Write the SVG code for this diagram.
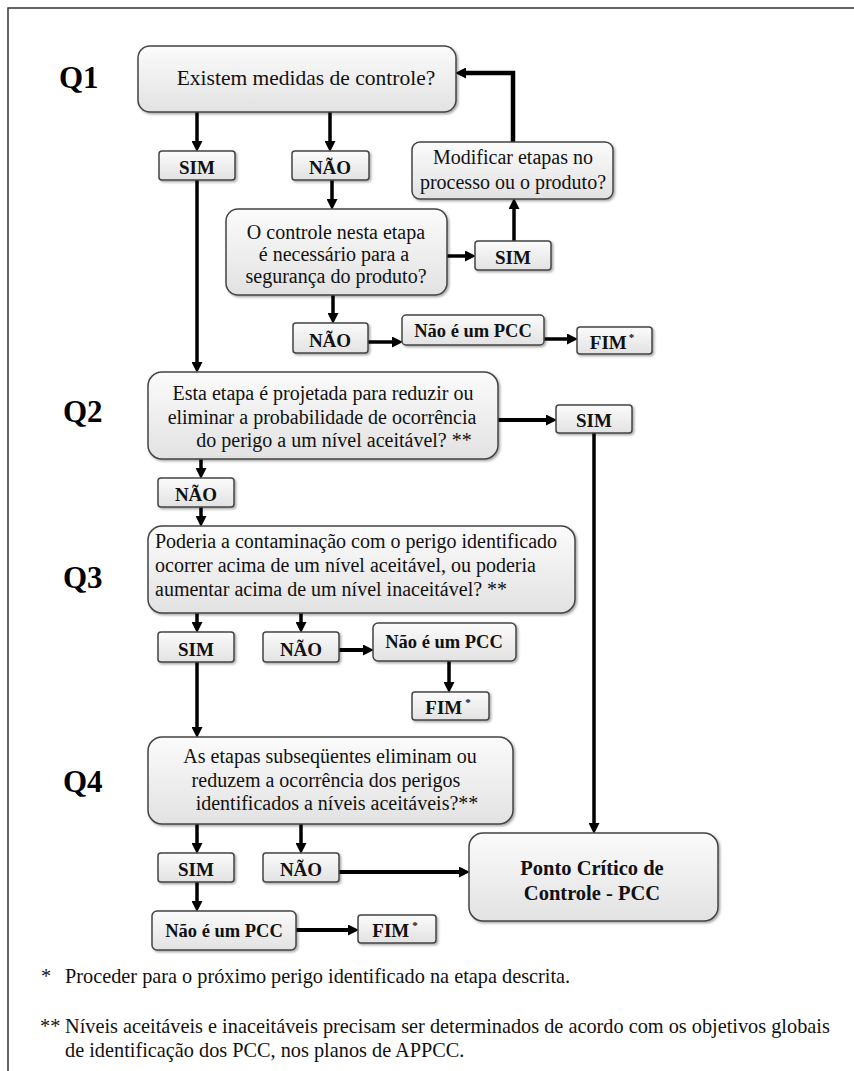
<svg xmlns="http://www.w3.org/2000/svg" width="854" height="1071" viewBox="0 0 854 1071">
<defs>
  <linearGradient id="gfill" x1="0" y1="0" x2="0" y2="1">
    <stop offset="0" stop-color="#fbfbfb"/>
    <stop offset="1" stop-color="#e2e2e2"/>
  </linearGradient>
  <filter id="shadow" x="-10%" y="-10%" width="120%" height="130%">
    <feDropShadow dx="1.5" dy="1.5" stdDeviation="1" flood-color="#000" flood-opacity="0.35"/>
  </filter>
  <marker id="ah" markerUnits="userSpaceOnUse" markerWidth="11" markerHeight="11" refX="2" refY="5.5" orient="auto">
    <path d="M0,0 L11,5.5 L0,11 z" fill="#000"/>
  </marker>
</defs>
<style>
  .box { fill: url(#gfill); stroke: #444; stroke-width: 1.5; filter: url(#shadow); }
  .t { font-family: "Liberation Serif", "Times New Roman", serif; font-size: 20px; fill: #111; }
  .tm { text-anchor: middle; }
  .b { font-family: "Liberation Serif", "Times New Roman", serif; font-size: 19px; font-weight: bold; fill: #111; text-anchor: middle; }
  .q { font-family: "Liberation Serif", "Times New Roman", serif; font-size: 31px; font-weight: bold; fill: #000; }
  .fn { font-family: "Liberation Serif", "Times New Roman", serif; font-size: 20.3px; fill: #111; }
  .c { fill: none; stroke: #000; stroke-width: 3.5; marker-end: url(#ah); }
</style>
<rect width="854" height="1071" fill="#fff"/>
<g id="frame">
  <path d="M8,1071 L8,8 L854,8" fill="none" stroke="#333" stroke-width="1.5"/>
</g>

<g id="labels">
  <text class="q" x="59" y="88">Q1</text>
  <text class="q" x="63" y="422">Q2</text>
  <text class="q" x="63" y="588">Q3</text>
  <text class="q" x="63" y="792">Q4</text>
</g>

<g id="connectors">
  <path class="c" d="M197,112 V143"/>
  <path class="c" d="M330,112 V143"/>
  <path class="c" d="M332,180 V201"/>
  <path class="c" d="M447,256 H467"/>
  <path class="c" d="M514,241 V207"/>
  <path class="c" d="M513,142 V73 H464" style="stroke-width:4.5"/>
  <path class="c" d="M333,295 V315"/>
  <path class="c" d="M368,342 H394"/>
  <path class="c" d="M544,339 H569"/>
  <path class="c" d="M197,180 V364"/>
  <path class="c" d="M498,420 H548" style="stroke-width:4"/>
  <path class="c" d="M594,433 V825"/>
  <path class="c" d="M201,459 V470"/>
  <path class="c" d="M201,507 V518"/>
  <path class="c" d="M197,613 V624"/>
  <path class="c" d="M301,613 V624"/>
  <path class="c" d="M339,650 H365" style="stroke-width:4"/>
  <path class="c" d="M449,661 V684"/>
  <path class="c" d="M197,662 V729"/>
  <path class="c" d="M197,824 V845"/>
  <path class="c" d="M301,824 V845"/>
  <path class="c" d="M339,872 H461" style="stroke-width:4"/>
  <path class="c" d="M197,882 V903"/>
  <path class="c" d="M296,930 H350" style="stroke-width:4"/>
</g>

<g id="q1">
  <rect class="box" x="138" y="46" width="318" height="66" rx="12"/>
  <text class="t tm" x="306" y="85" style="font-size:21.5px">Existem medidas de controle?</text>
</g>
<g id="q1-sim">
  <rect class="box" x="159" y="151" width="76" height="29" rx="3"/>
  <text class="b" x="197" y="174">SIM</text>
</g>
<g id="q1-nao">
  <rect class="box" x="292" y="151" width="77" height="29" rx="3"/>
  <text class="b" x="330" y="174">NÃO</text>
</g>
<g id="modificar">
  <rect class="box" x="412" y="142" width="201" height="57" rx="8"/>
  <text class="t tm" x="513" y="164">Modificar etapas no</text>
  <text class="t tm" x="513" y="189">processo ou o produto?</text>
</g>
<g id="q1a">
  <rect class="box" x="226" y="209" width="221" height="86" rx="12"/>
  <text class="t tm" x="336" y="239">O controle nesta etapa</text>
  <text class="t tm" x="334" y="261">é necessário para a</text>
  <text class="t tm" x="336" y="283">segurança do produto?</text>
</g>
<g id="q1a-sim">
  <rect class="box" x="475" y="241" width="76" height="29" rx="3"/>
  <text class="b" x="513" y="264">SIM</text>
</g>
<g id="q1a-nao">
  <rect class="box" x="293" y="323" width="75" height="30" rx="3"/>
  <text class="b" x="330" y="347">NÃO</text>
</g>
<g id="q1a-npcc">
  <rect class="box" x="402" y="315" width="142" height="30" rx="4"/>
  <text class="b" x="473" y="337" style="font-size:18.5px">Não é um PCC</text>
</g>
<g id="q1a-fim">
  <rect class="box" x="577" y="327" width="75" height="27" rx="3"/>
  <text class="b" x="612" y="349">FIM<tspan font-size="11" dx="2" dy="-8">*</tspan></text>
</g>

<g id="q2">
  <rect class="box" x="148" y="372" width="350" height="87" rx="14"/>
  <text class="t tm" x="323" y="400">Esta etapa é projetada para reduzir ou</text>
  <text class="t tm" x="322" y="424">eliminar a probabilidade de ocorrência</text>
  <text class="t tm" x="334" y="447">do perigo a um nível aceitável? **</text>
</g>
<g id="q2-sim">
  <rect class="box" x="556" y="405" width="76" height="28" rx="3"/>
  <text class="b" x="594" y="427">SIM</text>
</g>
<g id="q2-nao">
  <rect class="box" x="158" y="478" width="76" height="29" rx="3"/>
  <text class="b" x="196" y="501">NÃO</text>
</g>

<g id="q3">
  <rect class="box" x="148" y="526" width="427" height="87" rx="14"/>
  <text class="t" x="155" y="548">Poderia a contaminação com o perigo identificado</text>
  <text class="t" x="155" y="572">ocorrer acima de um nível aceitável, ou poderia</text>
  <text class="t" x="155" y="596">aumentar acima de um nível inaceitável? **</text>
</g>
<g id="q3-sim">
  <rect class="box" x="158" y="632" width="76" height="30" rx="3"/>
  <text class="b" x="196" y="656">SIM</text>
</g>
<g id="q3-nao">
  <rect class="box" x="263" y="632" width="76" height="30" rx="3"/>
  <text class="b" x="301" y="656">NÃO</text>
</g>
<g id="q3-npcc">
  <rect class="box" x="373" y="623" width="143" height="38" rx="5"/>
  <text class="b" x="444" y="648" style="font-size:18.5px">Não é um PCC</text>
</g>
<g id="q3-fim">
  <rect class="box" x="412" y="692" width="77" height="28" rx="3"/>
  <text class="b" x="448" y="714">FIM<tspan font-size="11" dx="3" dy="-8">*</tspan></text>
</g>

<g id="q4">
  <rect class="box" x="148" y="737" width="365" height="87" rx="14"/>
  <text class="t tm" x="330" y="763">As etapas subseqüentes eliminam ou</text>
  <text class="t tm" x="326" y="787">reduzem a ocorrência dos perigos</text>
  <text class="t tm" x="337" y="810">identificados a níveis aceitáveis?**</text>
</g>
<g id="q4-sim">
  <rect class="box" x="158" y="853" width="76" height="29" rx="3"/>
  <text class="b" x="196" y="876">SIM</text>
</g>
<g id="q4-nao">
  <rect class="box" x="263" y="853" width="76" height="29" rx="3"/>
  <text class="b" x="301" y="876">NÃO</text>
</g>
<g id="pcc">
  <rect class="box" x="469" y="833" width="249" height="88" rx="14"/>
  <text class="b" x="592" y="875" style="font-size:20.5px">Ponto Crítico de</text>
  <text class="b" x="592" y="900" style="font-size:20.5px">Controle - PCC</text>
</g>
<g id="q4-npcc">
  <rect class="box" x="152" y="911" width="144" height="39" rx="5"/>
  <text class="b" x="224" y="937" style="font-size:18.5px">Não é um PCC</text>
</g>
<g id="q4-fim">
  <rect class="box" x="358" y="915" width="78" height="28" rx="3"/>
  <text class="b" x="395" y="937">FIM<tspan font-size="11" dx="3" dy="-8">*</tspan></text>
</g>

<g id="footnotes">
  <text class="fn" x="41" y="983">*</text>
  <text class="fn" x="65" y="983">Proceder para o próximo perigo identificado na etapa descrita.</text>
  <text class="fn" x="40" y="1033">**</text>
  <text class="fn" x="65" y="1033">Níveis aceitáveis e inaceitáveis precisam ser determinados de acordo com os objetivos globais</text>
  <text class="fn" x="65" y="1057">de identificação dos PCC, nos planos de APPCC.</text>
</g>
</svg>
